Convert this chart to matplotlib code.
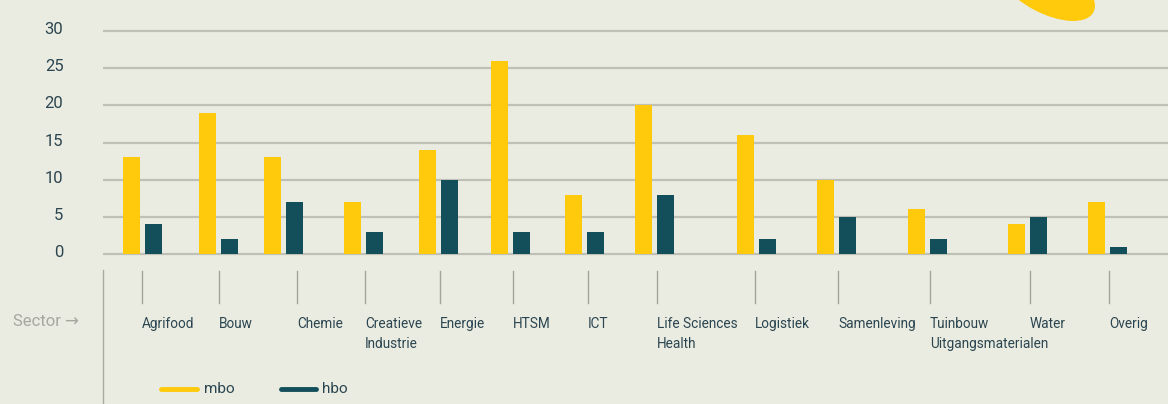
import matplotlib.pyplot as plt
from matplotlib.patches import Ellipse
from matplotlib.transforms import ScaledTranslation

sectors = ['Agrifood', 'Bouw', 'Chemie', 'Creatieve\nIndustrie', 'Energie', 'HTSM', 'ICT',
           'Life Sciences\nHealth', 'Logistiek', 'Samenleving', 'Tuinbouw\nUitgangsmaterialen',
           'Water', 'Overig']
mbo = [13, 19, 13, 7, 14, 26, 8, 20, 16, 10, 6, 4, 7]
hbo = [4, 2, 7, 3, 10, 3, 3, 8, 2, 5, 2, 5, 1]
yticks = [0, 5, 10, 15, 20, 25, 30]

# layout (pixels) - groups in the original are not evenly spaced
bar_x = [123, 199, 264, 344, 419, 491, 565, 635, 737, 817, 908, 1008, 1088]
label_x = [142, 219, 297, 365, 440, 513, 588, 657, 755, 838, 930, 1030, 1109]
bw = 17
gap = 5

bg = '#eaece2'
yellow = '#ffc90c'
teal = '#134f5a'
text_col = '#2b4550'
grid_col = '#bfc1b7'

plt.rcParams['font.family'] = ['Roboto', 'DejaVu Sans']

W, H = 1168, 404
fig = plt.figure(figsize=(W / 100, H / 100), dpi=100, facecolor=bg)

# main axes: x in pixels, y in values (0 at y=254, 30 at y=31)
ppu = (254 - 31) / 30
pad = 0.4
top_px = 31 - pad * ppu
bot_px = 254 + pad * ppu
ax = fig.add_axes([103 / W, (H - bot_px) / H, (W - 103) / W, (bot_px - top_px) / H])
ax.set_facecolor('none')
ax.set_xlim(103, W)
ax.set_ylim(-pad, 30 + pad)

for y in yticks:
    ax.axhline(y, color=grid_col, lw=1.6, zorder=1)

ax.bar([x + bw / 2 for x in bar_x], mbo, width=bw, color=yellow, zorder=2)
ax.bar([x + bw + gap + bw / 2 for x in bar_x], hbo, width=bw, color=teal, zorder=2)

for s in ax.spines.values():
    s.set_visible(False)
ax.set_xticks([])
ax.set_yticks(yticks)
ax.tick_params(axis='y', length=0, pad=28.5, labelsize=12, labelcolor=text_col)
off = ScaledTranslation(0, 3 / 100, fig.dpi_scale_trans)
for lab in ax.get_yticklabels():
    lab.set_transform(lab.get_transform() + off)

# decoration / lower panel in pixel coordinates
deco = fig.add_axes([0, 0, 1, 1])
deco.set_xlim(0, W)
deco.set_ylim(H, 0)
deco.axis('off')
deco.patch.set_alpha(0)

deco.add_patch(Ellipse((1046, -13), 106, 50, angle=28, color=yellow, zorder=0))

deco.plot([103, 103], [270, 404], color='#a9aba3', lw=1)
deco.text(13, 322, 'Sector \u2192', color='#a6a89f', fontsize=12, va='center', ha='left')

for x, name in zip(label_x, sectors):
    deco.plot([x, x], [271, 303], color='#a3a59d', lw=1)
    for i, line in enumerate(name.split('\n')):
        deco.text(x, 328 + i * 20, line, color=text_col, fontsize=9.8,
                  ha='left', va='baseline')

deco.plot([161, 197], [389, 389], color=yellow, lw=3.5, solid_capstyle='round')
deco.text(204, 389, 'mbo', color=text_col, fontsize=11, va='center')
deco.plot([281, 316], [389, 389], color=teal, lw=3.5, solid_capstyle='round')
deco.text(322, 389, 'hbo', color=text_col, fontsize=11, va='center')

fig.savefig('out.png', dpi=100, facecolor=bg)
